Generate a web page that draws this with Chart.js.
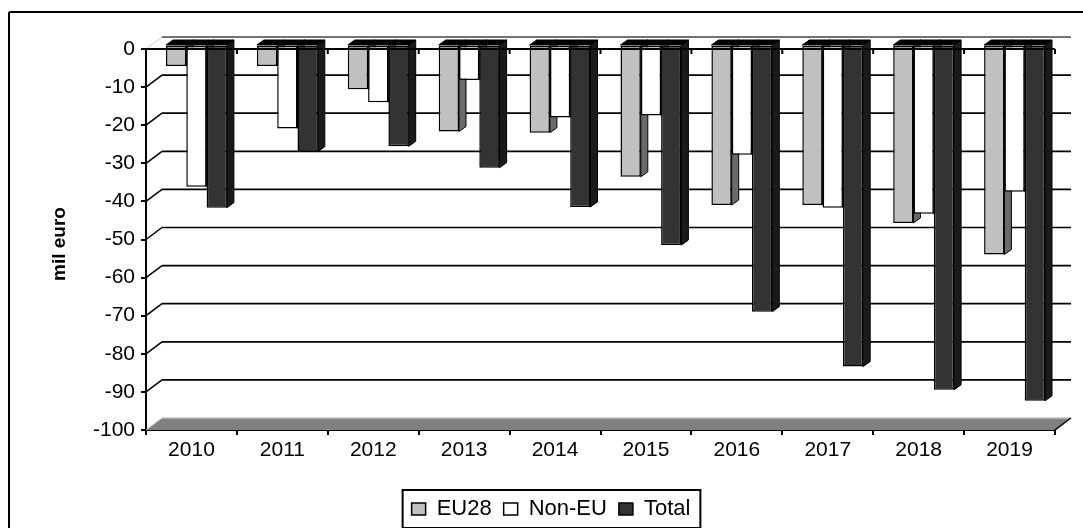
<!DOCTYPE html>
<html>
<head>
<meta charset="utf-8">
<style>
    html, body { margin: 0; padding: 0; background: #fff; }
    canvas { display: block; }
</style>
<script src="https://cdn.jsdelivr.net/npm/chart.js@4/dist/chart.umd.js"></script>
</head>
<body>
<canvas id="balanceChart" width="1083" height="528"></canvas>
<script>
const years = ['2010', '2011', '2012', '2013', '2014', '2015', '2016', '2017', '2018', '2019'];
const eu28 = [-5.5, -5.5, -11.6, -22.7, -23, -34.6, -42, -42, -46.7, -55];
const nonEu = [-37.2, -21.9, -15, -9.2, -19, -18.5, -28.8, -42.7, -44.3, -38.5];
const total = [-42.7, -28, -26.6, -32.2, -42.5, -52.5, -70, -84.4, -90.5, -93.4];

const FONT = '"Liberation Sans", Arial, sans-serif';

// offsets of the fake 3D look
const wall = { dx: 16, dy: -12 };
const bar = { shiftX: 5, shiftY: -4, dx: 7, dy: -5 };
const sideColors = ['#6a6a6a', '#808080', '#1a1a1a'];

const line = (ctx, x1, y1, x2, y2, color, width) => {
    ctx.strokeStyle = color;
    ctx.lineWidth = width;
    ctx.beginPath();
    ctx.moveTo(x1, y1);
    ctx.lineTo(x2, y2);
    ctx.stroke();
};

const drawBarDepth = (chart, meta, index) => {
    const { ctx } = chart;
    const y0 = chart.scales.y.getPixelForValue(0);
    meta.data.forEach((el) => {
        const left = el.x - el.width / 2;
        const right = el.x + el.width / 2;
        // side face
        ctx.fillStyle = sideColors[index];
        ctx.strokeStyle = '#000';
        ctx.lineWidth = 1;
        ctx.beginPath();
        ctx.moveTo(right, y0);
        ctx.lineTo(right + bar.dx, y0 + bar.dy);
        ctx.lineTo(right + bar.dx, el.y + bar.dy);
        ctx.lineTo(right, el.y);
        ctx.closePath();
        ctx.fill();
        ctx.stroke();
        // top face
        ctx.fillStyle = '#000';
        ctx.beginPath();
        ctx.moveTo(left, y0);
        ctx.lineTo(left + bar.dx, y0 + bar.dy);
        ctx.lineTo(right + bar.dx, y0 + bar.dy);
        ctx.lineTo(right, y0);
        ctx.closePath();
        ctx.fill();
        ctx.stroke();
    });
};

const fake3d = {
    id: 'fake3d',
    beforeDatasetsDraw(chart) {
        const { ctx, chartArea: area, scales: { x, y } } = chart;
        const y0 = y.getPixelForValue(0);
        const yMin = y.getPixelForValue(-100);

        // frame of the chart
        line(ctx, 9, 12, 1083, 12, '#000', 2);
        line(ctx, 9, 12, 9, 528, '#000', 2);

        // floor
        ctx.fillStyle = '#808080';
        ctx.beginPath();
        ctx.moveTo(area.left, yMin);
        ctx.lineTo(area.left + wall.dx, yMin + wall.dy);
        ctx.lineTo(area.right + wall.dx, yMin + wall.dy);
        ctx.lineTo(area.right, yMin);
        ctx.closePath();
        ctx.fill();
        line(ctx, area.left + wall.dx, yMin + wall.dy, area.right + wall.dx, yMin + wall.dy, '#c0c0c0', 1.5);
        line(ctx, area.left, yMin, area.left + wall.dx, yMin + wall.dy, '#c8c8c8', 1);
        line(ctx, area.right, yMin, area.right + wall.dx, yMin + wall.dy, '#000', 1.5);

        // back wall grid and the left wall diagonals
        y.ticks.forEach((tick) => {
            if (tick.value === -100) {
                return;
            }
            const py = y.getPixelForValue(tick.value);
            const top = tick.value === 0;
            line(ctx, area.left + wall.dx, py + wall.dy, area.right + wall.dx, py + wall.dy, top ? '#444' : '#000', 1.7);
            line(ctx, area.left, py, area.left + wall.dx, py + wall.dy, top ? '#c8c8c8' : '#000', top ? 1 : 1.5);
        });

        // series in their own order so Total ends up in front
        chart.data.datasets.forEach((d, i) => {
            const meta = chart.getDatasetMeta(i);
            ctx.save();
            ctx.translate(bar.shiftX, bar.shiftY);
            drawBarDepth(chart, meta, i);
            meta.controller.draw();
            ctx.restore();
        });

        // zero line with its ticks, in front of the bars
        const step = x.getPixelForValue(1) - x.getPixelForValue(0);
        line(ctx, area.left, y0, area.right, y0, '#000', 2);
        years.forEach((year, i) => {
            const px = x.getPixelForValue(i) + step / 2;
            line(ctx, px, y0, px, y0 + 5, '#000', 2);
        });
        return false;
    },
    afterDraw(chart) {
        const { ctx, legend } = chart;

        // box around the legend
        const boxes = legend.legendHitBoxes;
        const left = boxes[0].left - 9;
        const last = boxes[boxes.length - 1];
        const right = last.left + last.width + 10;
        ctx.strokeStyle = '#000';
        ctx.lineWidth = 2;
        ctx.strokeRect(left, boxes[0].top - 8, right - left, boxes[0].height + 16);

        // axis title sits a little under the middle of the axis
        ctx.save();
        ctx.translate(60, 244);
        ctx.rotate(-Math.PI / 2);
        ctx.fillStyle = '#000';
        ctx.font = `bold 19px ${FONT}`;
        ctx.textAlign = 'center';
        ctx.textBaseline = 'middle';
        ctx.fillText('mil euro', 0, 0);
        ctx.restore();
    },
};

new Chart(document.getElementById('balanceChart'), {
    type: 'bar',
    data: {
        labels: years,
        datasets: [
            { label: 'EU28', data: eu28, backgroundColor: '#c0c0c0' },
            { label: 'Non-EU', data: nonEu, backgroundColor: '#ffffff' },
            { label: 'Total', data: total, backgroundColor: '#333333' },
        ].map((d) => ({ ...d, borderColor: '#000', borderWidth: 1.5, borderSkipped: false })),
    },
    options: {
        responsive: false,
        animation: false,
        devicePixelRatio: 1,
        categoryPercentage: 0.67,
        barPercentage: 1,
        layout: {
            padding: { left: 47, right: 28, top: 49, bottom: -2 },
        },
        plugins: {
            tooltip: { enabled: false },
            legend: {
                position: 'bottom',
                labels: {
                    color: '#000',
                    boxWidth: 14,
                    boxHeight: 12,
                    padding: 12,
                    font: { family: FONT, size: 22 },
                    generateLabels(chart) {
                        return Chart.defaults.plugins.legend.labels.generateLabels(chart).map((item) => ({
                            ...item,
                            strokeStyle: '#000',
                            lineWidth: 1.5,
                        }));
                    },
                },
            },
        },
        scales: {
            x: {
                offset: true,
                grid: { offset: true, drawOnChartArea: false, tickLength: 5, color: '#000', lineWidth: 2 },
                border: { color: '#000', width: 2 },
                ticks: { color: '#000', font: { family: FONT, size: 21 }, maxRotation: 0, padding: 3 },
                afterFit(scale) {
                    scale.height = 56;
                    scale.paddingLeft = 0;
                    scale.paddingRight = 0;
                },
            },
            y: {
                min: -100,
                max: 0,
                ticks: { stepSize: 10, color: '#000', font: { family: FONT, size: 21 }, padding: 6 },
                grid: { drawOnChartArea: false, tickLength: 5, color: '#000', lineWidth: 2 },
                border: { color: '#000', width: 2 },
                afterFit(scale) {
                    scale.width = 99;
                    scale.paddingTop = 0;
                    scale.paddingBottom = 0;
                },
            },
        },
    },
    plugins: [fake3d],
});
</script>
</body>
</html>
